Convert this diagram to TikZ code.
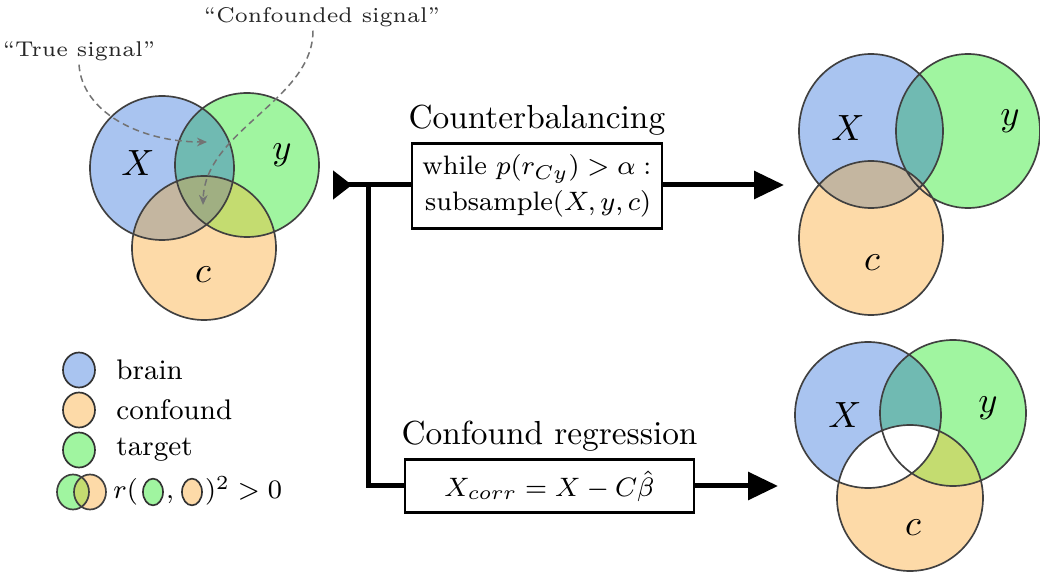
\documentclass[tikz,border=0pt]{standalone}
\usepackage{amsmath}
\usepackage{tikz}
\usetikzlibrary{arrows.meta,positioning,shapes.geometric}
\definecolor{brainblue}{RGB}{169,196,240}
\definecolor{targetgreen}{RGB}{160,245,160}
\definecolor{confoundorange}{RGB}{253,218,168}
\definecolor{xyteal}{RGB}{112,186,178}
\definecolor{xctan}{RGB}{196,182,160}
\definecolor{ycolive}{RGB}{196,220,112}
\definecolor{xycmix}{RGB}{160,175,130}
\tikzstyle{vennline} = [draw=black!75, line width=0.5pt]
\tikzstyle{venntxt} = [font=\fontsize{11}{13}\selectfont, text=black]
\tikzstyle{algbox} = [draw, line width=0.7pt, font=\fontsize{8}{10.8}\selectfont]
\tikzstyle{boxtitle} = [font=\fontsize{10}{12}\selectfont, inner sep=2pt]
\tikzstyle{sigtxt} = [font=\fontsize{6.4}{8}\selectfont, text=black!85, inner sep=1pt]
\tikzstyle{signal} = [draw=black!55, dash pattern=on 2pt off 1.3pt, line width=0.45pt, -{Stealth[length=3pt,width=2.6pt]}]
\tikzstyle{flowline} = [draw, line width=1.5pt]
\tikzstyle{legblob} = [ellipse, draw=black!80, line width=0.5pt, minimum width=9.6pt, minimum height=10.5pt, inner sep=0pt]
\tikzstyle{smallblob} = [ellipse, draw=black!80, line width=0.5pt, minimum width=6pt, minimum height=8pt, inner sep=0pt]
\tikzstyle{legtxt} = [font=\fontsize{8.5}{10}\selectfont, inner sep=0.5pt]

\begin{document}
\begin{tikzpicture}[x=0.3pt, y=0.3pt]

\path[fill=white, use as bounding box] (0,0) rectangle (1040,-581);

% left venn =============================
\def\lX{(162,-168) circle (72)}
\def\lY{(247,-165) circle (72)}
\def\lC{(204,-248) circle (72)}
\fill[brainblue] \lX;
\fill[targetgreen] \lY;
\fill[confoundorange] \lC;
\begin{scope} \clip \lX; \fill[xyteal] \lY; \end{scope}
\begin{scope} \clip \lX; \fill[xctan] \lC; \end{scope}
\begin{scope} \clip \lY; \fill[ycolive] \lC; \end{scope}
\begin{scope} \clip \lX; \clip \lY; \fill[xycmix] \lC; \end{scope}
\path[vennline] \lX \lY \lC;
\node[venntxt] (lXlbl) at (138,-163) {$X$};
\node[venntxt] (lYlbl) at (282,-155) {$y$};
\node[venntxt] (lClbl) at (203,-275) {$c$};

% signal labels
\node[sigtxt] (truelbl) at (79,-51) {``True signal''};
\node[sigtxt] (conflbl) at (322,-17) {``Confounded signal''};
\coordinate (truetip) at (207,-142);
\coordinate (conftip) at (203,-205);
\draw[signal] (truelbl.south) .. controls (82,-112) and (140,-142) .. (truetip);
\draw[signal] ([xshift=-2.7pt]conflbl.south) .. controls (313,-100) and (205,-130) .. (conftip);

% legend
\node[legblob, fill=brainblue] (legbrain) at (79,-370) {};
\node[legblob, fill=confoundorange] (legconf) at (79,-410) {};
\node[legblob, fill=targetgreen] (legtarget) at (79,-450) {};
\node[legtxt, right=5.5pt of legbrain] (legbraintxt) {brain};
\node[legtxt, right=5.5pt of legconf] (legconftxt) {confound};
\node[legtxt, right=5.5pt of legtarget] (legtargettxt) {target};
\def\gG{(73,-492) ellipse (16 and 17.5)}
\def\gO{(90,-492) ellipse (16 and 17.5)}
\fill[targetgreen] \gG;
\fill[confoundorange] \gO;
\begin{scope} \clip \gG; \fill[ycolive] \gO; \end{scope}
\path[vennline] \gG \gO;
\node[legtxt, anchor=base west] (rleft) at (111,-499) {$r($};
\node[smallblob, fill=targetgreen] (rgreen) at (153,-492) {};
\node[legtxt, anchor=base west] (rcomma) at (rgreen.east |- rleft.base) {$,$};
\node[smallblob, fill=confoundorange] (rorange) at (192,-492) {};
\node[legtxt, anchor=base west] (rright) at (rorange.east |- rleft.base) {$)^2 > 0$};

% flow ==================================
\coordinate (start) at (333,-185);
\coordinate (split) at (368,-185);
\node[algbox, minimum width=75pt, minimum height=23.7pt, inner xsep=3pt, align=right, anchor=east] (cbbox) at (663,-186) {while $p(r_{Cy}) > \alpha :$\\ subsample$(X,y,c)$};
\node[boxtitle, above=0pt of cbbox] (cbtitle) {Counterbalancing};
\node[algbox, minimum width=86.7pt, minimum height=13.5pt] (crbox) at (549.5,-486) {$X_{corr} = X - C\hat{\beta}$};
\node[boxtitle, above=0pt of crbox] (crtitle) {Confound regression};
\coordinate (cbend) at (784,-185);
\coordinate (crend) at (778,-486);

\draw[flowline, {Triangle[reversed, length=5.7pt, width=8.4pt]}-] (start) -- (start -| cbbox.west);
\draw[flowline, -{Triangle[length=9pt, width=8.2pt]}] (cbbox.east |- start) -- (cbend);
\draw[flowline] (split) |- (crbox.west);
\draw[flowline, -{Triangle[length=9pt, width=8.2pt]}] (crbox.east) -- (crend);

% right top venn ========================
\def\tX{(871,-131) ellipse (72 and 77)}
\def\tY{(968,-131) ellipse (72 and 77)}
\def\tC{(871,-238) ellipse (72 and 77)}
\fill[brainblue] \tX;
\fill[targetgreen] \tY;
\fill[confoundorange] \tC;
\begin{scope} \clip \tX; \fill[xyteal] \tY; \end{scope}
\begin{scope} \clip \tX; \fill[xctan] \tC; \end{scope}
\path[vennline] \tX \tY \tC;
\node[venntxt] (tXlbl) at (848,-128) {$X$};
\node[venntxt] (tYlbl) at (1010,-121) {$y$};
\node[venntxt] (tClbl) at (872,-263) {$c$};

% right bottom venn =====================
\def\bX{(868,-415) circle (73)}
\def\bY{(953,-413) circle (73)}
\def\bC{(910,-498) circle (73)}
\fill[brainblue] \bX;
\fill[targetgreen] \bY;
\fill[confoundorange] \bC;
\begin{scope} \clip \bX; \fill[xyteal] \bY; \end{scope}
\begin{scope} \clip \bY; \fill[ycolive] \bC; \end{scope}
\begin{scope} \clip \bX; \fill[white] \bC; \end{scope}
\path[vennline] \bX \bY \bC;
\node[venntxt] (bXlbl) at (845,-415) {$X$};
\node[venntxt] (bYlbl) at (988,-408) {$y$};
\node[venntxt] (bClbl) at (913,-528) {$c$};

\end{tikzpicture}
\end{document}
